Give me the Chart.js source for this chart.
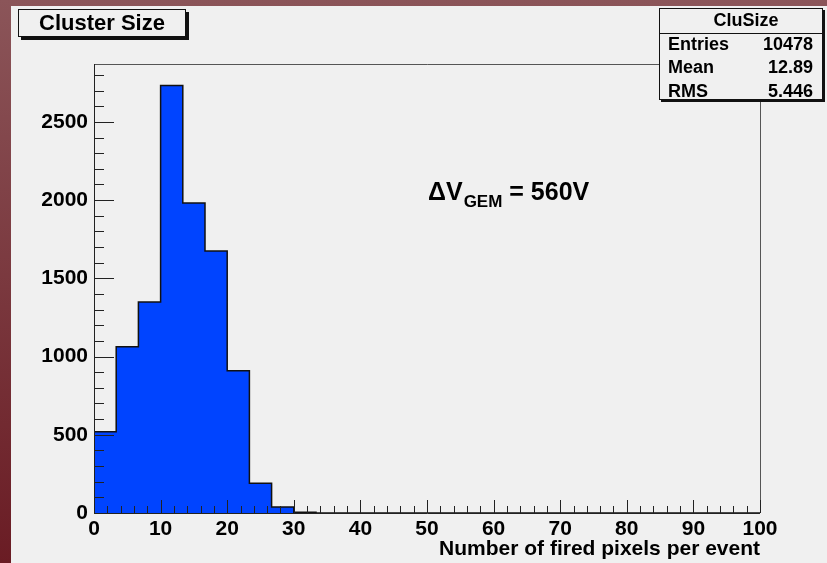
<!DOCTYPE html>
<html>
<head>
<meta charset="utf-8">
<script src="https://cdn.jsdelivr.net/npm/chart.js@4"></script>
<style>
  html, body { margin: 0; padding: 0; }
  body {
    width: 827px; height: 563px; overflow: hidden;
    background: linear-gradient(to bottom, #8b5559, #6a1c24);
    position: relative;
  }
  #pad {
    position: absolute; left: 11px; top: 6px;
    width: 816px; height: 557px;
    background: #f0f0f0;
  }
</style>
</head>
<body>
<div id="pad"><canvas id="grafico" width="816" height="557"></canvas></div>
<script>
  // histogram CluSize: 30 bins from 0 to 100
  const nBins = 30;
  const xMin = 0;
  const xMax = 100;
  const contagens = [520, 1062, 1349, 2733, 1981, 1675, 910, 190, 38, 5,
                     0, 0, 0, 0, 0, 0, 0, 0, 0, 0,
                     0, 0, 0, 0, 0, 0, 0, 0, 0, 0];
  const yMax = 2870;
  const xTicks = [0, 10, 20, 30, 40, 50, 60, 70, 80, 90, 100];
  const yTicks = [0, 500, 1000, 1500, 2000, 2500];

  const tituloHist = "Cluster Size";
  const tituloX = "Number of fired pixels per event";
  const statsNome = "CluSize";
  const statsLinhas = [["Entries", "10478"], ["Mean", "12.89"], ["RMS", "5.446"]];

  const fonte = "'Liberation Sans', Arial, Helvetica, sans-serif";

  // contorno em degraus do histograma
  const largura = (xMax - xMin) / nBins;
  const pontos = [{ x: xMin, y: 0 }];
  contagens.forEach((c, i) => pontos.push({ x: xMin + i * largura, y: c }));
  pontos.push({ x: xMax, y: 0 });

  const extras = {
    id: "extras",
    afterDatasetsDraw(chart) {
      const ctx = chart.ctx;
      const a = chart.chartArea;
      const xs = chart.scales.x;
      const ys = chart.scales.y;
      ctx.save();

      // moldura
      ctx.strokeStyle = "#555";
      ctx.lineWidth = 1;
      ctx.beginPath();
      ctx.moveTo(a.left, a.top + 0.5);
      ctx.lineTo(a.right + 0.5, a.top + 0.5);
      ctx.lineTo(a.right + 0.5, a.bottom);
      ctx.stroke();

      // eixos com ticks para dentro
      ctx.strokeStyle = "#222";
      ctx.beginPath();
      ctx.moveTo(a.left + 0.5, a.top);
      ctx.lineTo(a.left + 0.5, a.bottom + 0.5);
      ctx.lineTo(a.right, a.bottom + 0.5);
      for (let v = 0; v <= yMax; v += 100) {
        const y = Math.round(ys.getPixelForValue(v)) + 0.5;
        const len = v % 500 === 0 ? 20 : 10;
        ctx.moveTo(a.left, y);
        ctx.lineTo(a.left + len, y);
      }
      for (let v = xMin; v <= xMax; v += 2) {
        const x = Math.round(xs.getPixelForValue(v)) + 0.5;
        const len = v % 10 === 0 ? 13 : 7;
        ctx.moveTo(x, a.bottom);
        ctx.lineTo(x, a.bottom - len);
      }
      ctx.stroke();

      // caixa de titulo
      ctx.fillStyle = "#111";
      ctx.fillRect(10, 6, 168, 28);
      ctx.fillStyle = "#f0f0f0";
      ctx.fillRect(7, 3, 168, 28);
      ctx.strokeStyle = "#111";
      ctx.strokeRect(7.5, 3.5, 167, 27);
      ctx.fillStyle = "#000";
      ctx.font = "bold 22px " + fonte;
      ctx.textAlign = "center";
      ctx.textBaseline = "middle";
      ctx.fillText(tituloHist, 91, 18);

      // caixa de estatisticas
      ctx.fillStyle = "#111";
      ctx.fillRect(650, 4, 164, 92);
      ctx.fillStyle = "#f0f0f0";
      ctx.fillRect(648, 2, 164, 92);
      ctx.strokeStyle = "#111";
      ctx.strokeRect(648.5, 2.5, 163, 91);
      ctx.beginPath();
      ctx.moveTo(648, 27.5);
      ctx.lineTo(812, 27.5);
      ctx.stroke();
      ctx.fillStyle = "#000";
      ctx.font = "bold 18px " + fonte;
      ctx.fillText(statsNome, 735, 15);
      statsLinhas.forEach((l, i) => {
        const y = 39 + i * 23.5;
        ctx.textAlign = "left";
        ctx.fillText(l[0], 657, y);
        ctx.textAlign = "right";
        ctx.fillText(l[1], 802, y);
      });

      // anotacao
      ctx.textAlign = "left";
      ctx.textBaseline = "alphabetic";
      let x = 417;
      const base = 194;
      ctx.font = "bold 25px " + fonte;
      ctx.fillText("\u0394V", x, base);
      x += ctx.measureText("\u0394V").width + 1;
      ctx.font = "bold 17px " + fonte;
      ctx.fillText("GEM", x, base + 7);
      x += ctx.measureText("GEM").width;
      ctx.font = "bold 25px " + fonte;
      ctx.fillText(" = 560V", x, base);

      ctx.restore();
    }
  };

  new Chart(document.getElementById("grafico"), {
    type: "line",
    data: {
      datasets: [{
        label: statsNome,
        data: pontos,
        stepped: true,
        borderColor: "#111",
        borderWidth: 1.5,
        backgroundColor: "#0044ff",
        fill: "origin",
        pointRadius: 0,
        tension: 0
      }]
    },
    options: {
      responsive: false,
      animation: false,
      layout: { padding: { top: 58, right: 67, left: 0, bottom: 0 } },
      plugins: { legend: { display: false }, tooltip: { enabled: false } },
      scales: {
        x: {
          type: "linear",
          min: xMin,
          max: xMax,
          grid: { display: false, drawTicks: false },
          border: { display: false },
          afterBuildTicks: s => { s.ticks = xTicks.map(v => ({ value: v })); },
          afterFit: s => { s.height = 50; },
          ticks: {
            padding: 4,
            color: "#000",
            maxRotation: 0,
            callback: v => String(v),
            font: { family: fonte, weight: "bold", size: 21 }
          },
          title: {
            display: true,
            text: tituloX,
            align: "end",
            color: "#000",
            padding: { top: 0, bottom: 1 },
            font: { family: fonte, weight: "bold", size: 21 }
          }
        },
        y: {
          min: 0,
          max: yMax,
          grid: { display: false, drawTicks: false },
          border: { display: false },
          afterBuildTicks: s => { s.ticks = yTicks.map(v => ({ value: v })); },
          afterFit: s => { s.width = 83; },
          ticks: {
            padding: 6,
            color: "#000",
            callback: v => String(v),
            font: { family: fonte, weight: "bold", size: 21 }
          }
        }
      }
    },
    plugins: [extras]
  });
</script>
</body>
</html>
